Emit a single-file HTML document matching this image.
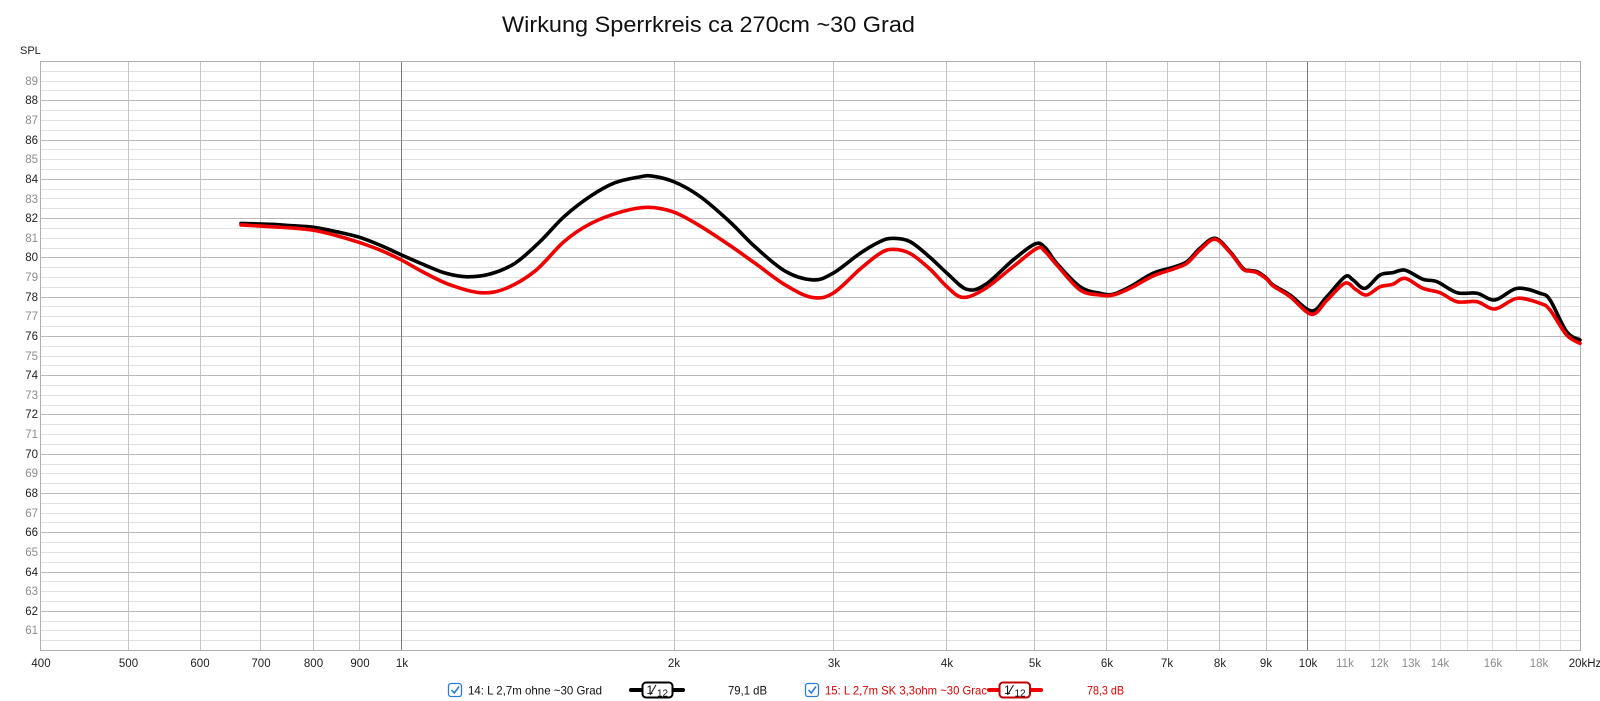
<!DOCTYPE html>
<html><head><meta charset="utf-8">
<style>
html,body{margin:0;padding:0;background:#fff;}
svg{display:block;}
text{font-family:"Liberation Sans",sans-serif;}
</style></head>
<body>
<svg id="s" width="1600" height="701" viewBox="0 0 1600 701" xmlns="http://www.w3.org/2000/svg">
<rect width="1600" height="701" fill="#fff"/>
<text x="502" y="32" font-size="22" fill="#111" textLength="413" lengthAdjust="spacingAndGlyphs">Wirkung Sperrkreis ca 270cm ~30 Grad</text>
<text x="20" y="54" font-size="11" fill="#222">SPL</text>

<!-- light horizontal grid (0.5 dB and odd dB) -->
<g stroke="#e1e1e1" stroke-width="1">
<line x1="41" x2="1580" y1="71.5" y2="71.5"/><line x1="41" x2="1580" y1="81.5" y2="81.5"/><line x1="41" x2="1580" y1="90.5" y2="90.5"/>
<line x1="41" x2="1580" y1="110.5" y2="110.5"/><line x1="41" x2="1580" y1="120.5" y2="120.5"/><line x1="41" x2="1580" y1="130.5" y2="130.5"/>
<line x1="41" x2="1580" y1="149.5" y2="149.5"/><line x1="41" x2="1580" y1="159.5" y2="159.5"/><line x1="41" x2="1580" y1="169.5" y2="169.5"/>
<line x1="41" x2="1580" y1="189.5" y2="189.5"/><line x1="41" x2="1580" y1="198.5" y2="198.5"/><line x1="41" x2="1580" y1="208.5" y2="208.5"/>
<line x1="41" x2="1580" y1="228.5" y2="228.5"/><line x1="41" x2="1580" y1="238.5" y2="238.5"/><line x1="41" x2="1580" y1="248.5" y2="248.5"/>
<line x1="41" x2="1580" y1="267.5" y2="267.5"/><line x1="41" x2="1580" y1="277.5" y2="277.5"/><line x1="41" x2="1580" y1="287.5" y2="287.5"/>
<line x1="41" x2="1580" y1="306.5" y2="306.5"/><line x1="41" x2="1580" y1="316.5" y2="316.5"/><line x1="41" x2="1580" y1="326.5" y2="326.5"/>
<line x1="41" x2="1580" y1="346.5" y2="346.5"/><line x1="41" x2="1580" y1="356.5" y2="356.5"/><line x1="41" x2="1580" y1="365.5" y2="365.5"/>
<line x1="41" x2="1580" y1="385.5" y2="385.5"/><line x1="41" x2="1580" y1="395.5" y2="395.5"/><line x1="41" x2="1580" y1="405.5" y2="405.5"/>
<line x1="41" x2="1580" y1="424.5" y2="424.5"/><line x1="41" x2="1580" y1="434.5" y2="434.5"/><line x1="41" x2="1580" y1="444.5" y2="444.5"/>
<line x1="41" x2="1580" y1="464.5" y2="464.5"/><line x1="41" x2="1580" y1="473.5" y2="473.5"/><line x1="41" x2="1580" y1="483.5" y2="483.5"/>
<line x1="41" x2="1580" y1="503.5" y2="503.5"/><line x1="41" x2="1580" y1="513.5" y2="513.5"/><line x1="41" x2="1580" y1="522.5" y2="522.5"/>
<line x1="41" x2="1580" y1="542.5" y2="542.5"/><line x1="41" x2="1580" y1="552.5" y2="552.5"/><line x1="41" x2="1580" y1="562.5" y2="562.5"/>
<line x1="41" x2="1580" y1="581.5" y2="581.5"/><line x1="41" x2="1580" y1="591.5" y2="591.5"/><line x1="41" x2="1580" y1="601.5" y2="601.5"/>
<line x1="41" x2="1580" y1="621.5" y2="621.5"/><line x1="41" x2="1580" y1="630.5" y2="630.5"/><line x1="41" x2="1580" y1="640.5" y2="640.5"/>
</g>
<!-- light verticals 11k..19k -->
<g stroke="#dcdcdc" stroke-width="1">
<line x1="1345.5" x2="1345.5" y1="61" y2="650"/><line x1="1379.5" x2="1379.5" y1="61" y2="650"/><line x1="1410.5" x2="1410.5" y1="61" y2="650"/>
<line x1="1440.5" x2="1440.5" y1="61" y2="650"/><line x1="1467.5" x2="1467.5" y1="61" y2="650"/><line x1="1492.5" x2="1492.5" y1="61" y2="650"/>
<line x1="1516.5" x2="1516.5" y1="61" y2="650"/><line x1="1539.5" x2="1539.5" y1="61" y2="650"/><line x1="1560.5" x2="1560.5" y1="61" y2="650"/>
</g>
<!-- medium verticals -->
<g stroke="#c4c4c4" stroke-width="1">
<line x1="128.5" x2="128.5" y1="61" y2="650"/><line x1="200.5" x2="200.5" y1="61" y2="650"/><line x1="260.5" x2="260.5" y1="61" y2="650"/>
<line x1="313.5" x2="313.5" y1="61" y2="650"/><line x1="359.5" x2="359.5" y1="61" y2="650"/>
<line x1="674.5" x2="674.5" y1="61" y2="650"/><line x1="833.5" x2="833.5" y1="61" y2="650"/><line x1="946.5" x2="946.5" y1="61" y2="650"/>
<line x1="1034.5" x2="1034.5" y1="61" y2="650"/><line x1="1106.5" x2="1106.5" y1="61" y2="650"/><line x1="1167.5" x2="1167.5" y1="61" y2="650"/>
<line x1="1219.5" x2="1219.5" y1="61" y2="650"/><line x1="1266.5" x2="1266.5" y1="61" y2="650"/>
</g>
<!-- even dB lines -->
<g stroke="#bababa" stroke-width="1">
<line x1="41" x2="1580" y1="100.5" y2="100.5"/><line x1="41" x2="1580" y1="140.5" y2="140.5"/><line x1="41" x2="1580" y1="179.5" y2="179.5"/>
<line x1="41" x2="1580" y1="218.5" y2="218.5"/><line x1="41" x2="1580" y1="257.5" y2="257.5"/><line x1="41" x2="1580" y1="297.5" y2="297.5"/>
<line x1="41" x2="1580" y1="336.5" y2="336.5"/><line x1="41" x2="1580" y1="375.5" y2="375.5"/><line x1="41" x2="1580" y1="414.5" y2="414.5"/>
<line x1="41" x2="1580" y1="454.5" y2="454.5"/><line x1="41" x2="1580" y1="493.5" y2="493.5"/><line x1="41" x2="1580" y1="532.5" y2="532.5"/>
<line x1="41" x2="1580" y1="572.5" y2="572.5"/><line x1="41" x2="1580" y1="611.5" y2="611.5"/>
</g>
<!-- decade lines -->
<g stroke="#7a7a7a" stroke-width="1">
<line x1="401.5" x2="401.5" y1="61" y2="650"/><line x1="1307.5" x2="1307.5" y1="61" y2="650"/>
</g>
<!-- frame -->
<rect x="40.5" y="61.5" width="1540" height="589" fill="none" stroke="#b0b0b0" stroke-width="1"/>

<!-- Y labels -->
<g font-size="11.5" text-anchor="end">
<text x="38" y="85" fill="#8c8c8c">89</text><text x="38" y="104" fill="#222">88</text>
<text x="38" y="124" fill="#8c8c8c">87</text><text x="38" y="144" fill="#222">86</text>
<text x="38" y="163" fill="#8c8c8c">85</text><text x="38" y="183" fill="#222">84</text>
<text x="38" y="203" fill="#8c8c8c">83</text><text x="38" y="222" fill="#222">82</text>
<text x="38" y="242" fill="#8c8c8c">81</text><text x="38" y="261" fill="#222">80</text>
<text x="38" y="281" fill="#8c8c8c">79</text><text x="38" y="301" fill="#222">78</text>
<text x="38" y="320" fill="#8c8c8c">77</text><text x="38" y="340" fill="#222">76</text>
<text x="38" y="360" fill="#8c8c8c">75</text><text x="38" y="379" fill="#222">74</text>
<text x="38" y="399" fill="#8c8c8c">73</text><text x="38" y="418" fill="#222">72</text>
<text x="38" y="438" fill="#8c8c8c">71</text><text x="38" y="458" fill="#222">70</text>
<text x="38" y="477" fill="#8c8c8c">69</text><text x="38" y="497" fill="#222">68</text>
<text x="38" y="517" fill="#8c8c8c">67</text><text x="38" y="536" fill="#222">66</text>
<text x="38" y="556" fill="#8c8c8c">65</text><text x="38" y="576" fill="#222">64</text>
<text x="38" y="595" fill="#8c8c8c">63</text><text x="38" y="615" fill="#222">62</text>
<text x="38" y="634" fill="#8c8c8c">61</text>
</g>
<!-- X labels -->
<g font-size="11.5" text-anchor="middle" fill="#222">
<text x="41" y="667">400</text><text x="128.5" y="667">500</text><text x="200" y="667">600</text>
<text x="261" y="667">700</text><text x="313.5" y="667">800</text><text x="360" y="667">900</text>
<text x="402" y="667">1k</text><text x="674" y="667">2k</text><text x="834" y="667">3k</text>
<text x="947" y="667">4k</text><text x="1035" y="667">5k</text><text x="1107" y="667">6k</text>
<text x="1167" y="667">7k</text><text x="1220" y="667">8k</text><text x="1266" y="667">9k</text>
<text x="1308" y="667">10k</text>
<g fill="#8c8c8c"><text x="1345" y="667">11k</text><text x="1379.5" y="667">12k</text><text x="1411" y="667">13k</text>
<text x="1440" y="667">14k</text><text x="1493" y="667">16k</text><text x="1539" y="667">18k</text></g>
<text x="1585" y="667">20kHz</text>
</g>

<!-- curves: group in (x, dB) coordinates -->
<g transform="matrix(1 0 0 -19.633 0 1827.97)" fill="none" stroke-linejoin="round" stroke-linecap="round">
<polyline id="pb" vector-effect="non-scaling-stroke" stroke="#000" stroke-width="3.6" points=""/>
<polyline id="pr" vector-effect="non-scaling-stroke" stroke="#f00000" stroke-width="3.6" points=""/>
<path id="cb" vector-effect="non-scaling-stroke" stroke="#000" stroke-width="3.6" d=""/>
<path id="cr" vector-effect="non-scaling-stroke" stroke="#f00000" stroke-width="3.6" d=""/>
</g>

<!-- legend -->
<g>
<rect x="448.5" y="683.5" width="13" height="13" rx="2.5" fill="#fff" stroke="#2e7ad8" stroke-width="1.3"/>
<path d="M451.5 690 L454.3 693 L459 686.5" fill="none" stroke="#2e7ad8" stroke-width="1.6"/>
<text x="468" y="694.5" font-size="12" fill="#111" textLength="134" lengthAdjust="spacingAndGlyphs">14: L 2,7m ohne ~30 Grad</text>
<line x1="631" x2="683" y1="690" y2="690" stroke="#000" stroke-width="4" stroke-linecap="round"/>
<rect x="642.5" y="682.5" width="30" height="15" rx="3.5" fill="#fff" stroke="#000" stroke-width="2"/>
<text x="646.5" y="694" font-size="12" fill="#111">1</text>
<line x1="650" x2="656" y1="695" y2="685" stroke="#111" stroke-width="1"/>
<text x="657" y="696.5" font-size="10" fill="#111">12</text>
<text x="728" y="694.5" font-size="12" fill="#111" textLength="39" lengthAdjust="spacingAndGlyphs">79,1 dB</text>

<rect x="805.5" y="683.5" width="13" height="13" rx="2.5" fill="#fff" stroke="#2e7ad8" stroke-width="1.3"/>
<path d="M808.5 690 L811.3 693 L816 686.5" fill="none" stroke="#2e7ad8" stroke-width="1.6"/>
<text x="825" y="694.5" font-size="12" fill="#e00000" textLength="162" lengthAdjust="spacingAndGlyphs">15: L 2,7m SK 3,3ohm ~30 Grac</text>
<line x1="989" x2="1041" y1="690" y2="690" stroke="#f00000" stroke-width="4" stroke-linecap="round"/>
<rect x="999.5" y="682.5" width="30.5" height="15" rx="3.5" fill="#fff" stroke="#c00000" stroke-width="2"/>
<text x="1004" y="694" font-size="12" fill="#111">1</text>
<line x1="1007.5" x2="1013.5" y1="695" y2="685" stroke="#111" stroke-width="1"/>
<text x="1014.5" y="696.5" font-size="10" fill="#111">12</text>
<text x="1087" y="694.5" font-size="12" fill="#e00000" textLength="37" lengthAdjust="spacingAndGlyphs">78,3 dB</text>
</g>
</svg>
<script>
var B=[[241,81.73],[270,81.68],[290,81.62],[313.7,81.53],[337,81.3],[359.6,81.02],[381,80.6],[401.6,80.12],[425,79.6],[445,79.2],[466.7,79.01],[490,79.15],[515,79.7],[540,80.8],[564,82.07],[590,83.1],[615,83.8],[640,84.1],[652,84.14],[674,83.85],[700,83.1],[730,81.8],[755,80.54],[785,79.3],[813,78.85],[833,79.19],[860,80.2],[880,80.8],[893,80.97],[910,80.8],[930,80.0],[947,79.19],[966.7,78.37],[985,78.6],[1013,79.86],[1035,80.68],[1045,80.5],[1056.7,79.7],[1080,78.5],[1100,78.17],[1113,78.12],[1130,78.5],[1153,79.19],[1173,79.49],[1187,79.78],[1200,80.46],[1215,80.97],[1230,80.29],[1243,79.44],[1250,79.33],[1257,79.27],[1266.7,78.93],[1273,78.59],[1290,78.08],[1311.7,77.27],[1326.7,77.99],[1345,79.01],[1353,78.85],[1365,78.42],[1380,79.1],[1393,79.22],[1405,79.35],[1423,78.88],[1437,78.76],[1457,78.2],[1477,78.17],[1495,77.83],[1517,78.42],[1540,78.17],[1550,77.83],[1566.7,76.21],[1580,75.79]];
var R=[[241,81.65],[290,81.5],[313.7,81.38],[337,81.1],[359.6,80.75],[381,80.35],[401.6,79.86],[425,79.2],[450,78.6],[480,78.2],[505,78.4],[535,79.3],[564,80.8],[590,81.7],[620,82.3],[648,82.55],[674,82.3],[700,81.6],[730,80.6],[755,79.7],[785,78.6],[812,77.96],[833,78.17],[860,79.4],[880,80.2],[893,80.41],[910,80.2],[930,79.4],[947,78.5],[963,77.96],[985,78.4],[1013,79.52],[1037,80.46],[1045,80.3],[1057,79.6],[1080,78.34],[1100,78.08],[1113,78.08],[1130,78.42],[1153,79.05],[1173,79.4],[1187,79.7],[1200,80.38],[1215,80.92],[1230,80.25],[1243,79.4],[1250,79.3],[1257,79.22],[1267,78.88],[1273,78.55],[1290,78.0],[1311.7,77.1],[1326.7,77.8],[1345,78.68],[1356,78.35],[1366.7,78.08],[1380,78.5],[1393,78.63],[1405,78.93],[1423,78.42],[1440,78.2],[1457,77.74],[1477,77.74],[1495,77.37],[1517,77.91],[1540,77.66],[1550,77.32],[1566.7,76.04],[1580,75.62]];
function pts(a){return a.map(function(p){return p[0]+','+p[1];}).join(' ');}
function cr(a){var d='M'+a[0][0]+' '+a[0][1];for(var i=0;i<a.length-1;i++){var p0=a[i>0?i-1:0],p1=a[i],p2=a[i+1],p3=a[i+2<a.length?i+2:i+1];
var c1x=p1[0]+(p2[0]-p0[0])/6,c1y=p1[1]+(p2[1]-p0[1])/6,c2x=p2[0]-(p3[0]-p1[0])/6,c2y=p2[1]-(p3[1]-p1[1])/6;
d+=' C'+c1x.toFixed(2)+' '+c1y.toFixed(3)+' '+c2x.toFixed(2)+' '+c2y.toFixed(3)+' '+p2[0]+' '+p2[1];}return d;}
try{document.getElementById('cb').setAttribute('d',cr(B));document.getElementById('cr').setAttribute('d',cr(R));}
catch(e){document.getElementById('pb').setAttribute('points',pts(B));document.getElementById('pr').setAttribute('points',pts(R));}
</script>
</body></html>
